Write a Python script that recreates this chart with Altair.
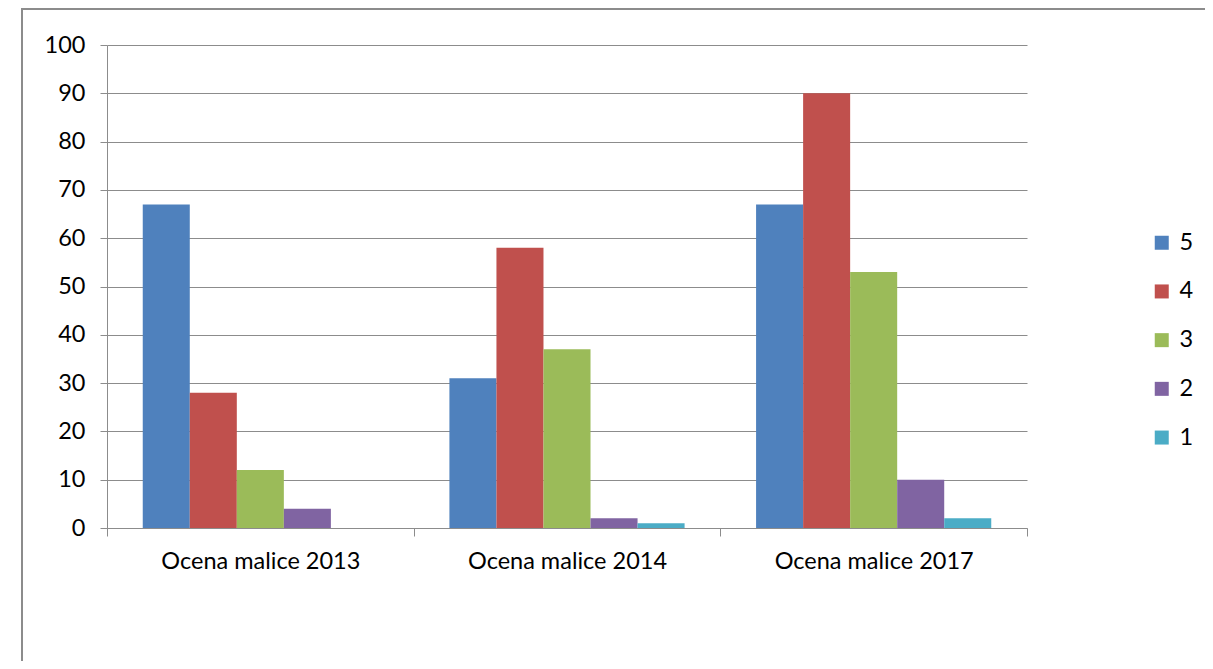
import altair as alt
import pandas as pd

categories = ["Ocena malice 2013", "Ocena malice 2014", "Ocena malice 2017"]
grades = ["5", "4", "3", "2", "1"]
values_2013 = [67, 28, 12, 4, 0]
values_2014 = [31, 58, 37, 2, 1]
values_2017 = [67, 90, 53, 10, 2]
colors = ["#4F81BD", "#C0504D", "#9BBB59", "#8064A2", "#4BACC6"]

rows = []
for cat, vals in zip(categories, [values_2013, values_2014, values_2017]):
    for g, v in zip(grades, vals):
        rows.append({"cat": cat, "grade": g, "value": v})
df = pd.DataFrame(rows)

FONT = "Lato"
FS = 23.5

bars = alt.Chart(df).mark_bar().encode(
    x=alt.X("cat:N", sort=categories, title=None,
            scale=alt.Scale(paddingInner=0, paddingOuter=0),
            axis=alt.Axis(labelAngle=0, tickBand="extent", tickSize=8,
                          labelPadding=13, domainColor="#8c8c8c", tickColor="#8c8c8c",
                          labelFontSize=FS, labelColor="#000000", labelFont=FONT,
                          labelLimit=0, grid=False)),
    xOffset=alt.XOffset("grade:N", sort=grades,
                        scale=alt.Scale(paddingInner=0, paddingOuter=0.76)),
    y=alt.Y("value:Q", title=None,
            scale=alt.Scale(domain=[0, 100], nice=False),
            axis=alt.Axis(values=list(range(0, 101, 10)), tickSize=7, labelPadding=15,
                          domainColor="#8c8c8c", tickColor="#8c8c8c",
                          gridColor="#8c8c8c", gridWidth=1,
                          labelFontSize=FS, labelColor="#000000", labelFont=FONT)),
    color=alt.Color("grade:N", sort=grades,
                    scale=alt.Scale(domain=grades, range=colors),
                    legend=alt.Legend(title=None, orient="none", legendX=1043, legendY=186,
                                      symbolType="square", symbolSize=196,
                                      symbolStrokeWidth=0, labelFontSize=FS,
                                      labelFont=FONT, labelColor="#000000",
                                      rowPadding=23.7, labelOffset=6)),
)

border_v = alt.Chart(df).mark_rule(color="#8c8c8c", strokeWidth=1.5, clip=False).encode(
    x=alt.value(-85), y=alt.value(-36.5), y2=alt.value(700))
border_h = alt.Chart(df).mark_rule(color="#8c8c8c", strokeWidth=1.5, clip=False).encode(
    x=alt.value(-85), x2=alt.value(1200), y=alt.value(-36.5))

chart = alt.layer(bars, border_v, border_h).properties(
    width=920, height=483,
    autosize=alt.AutoSizeParams(type="none"),
    padding={"left": 99, "top": 37, "right": 178, "bottom": 133},
).configure_view(stroke=None).configure_axis(domainWidth=1, tickWidth=1)

chart.save("out.html", embed_options={"renderer": "svg", "actions": False})
